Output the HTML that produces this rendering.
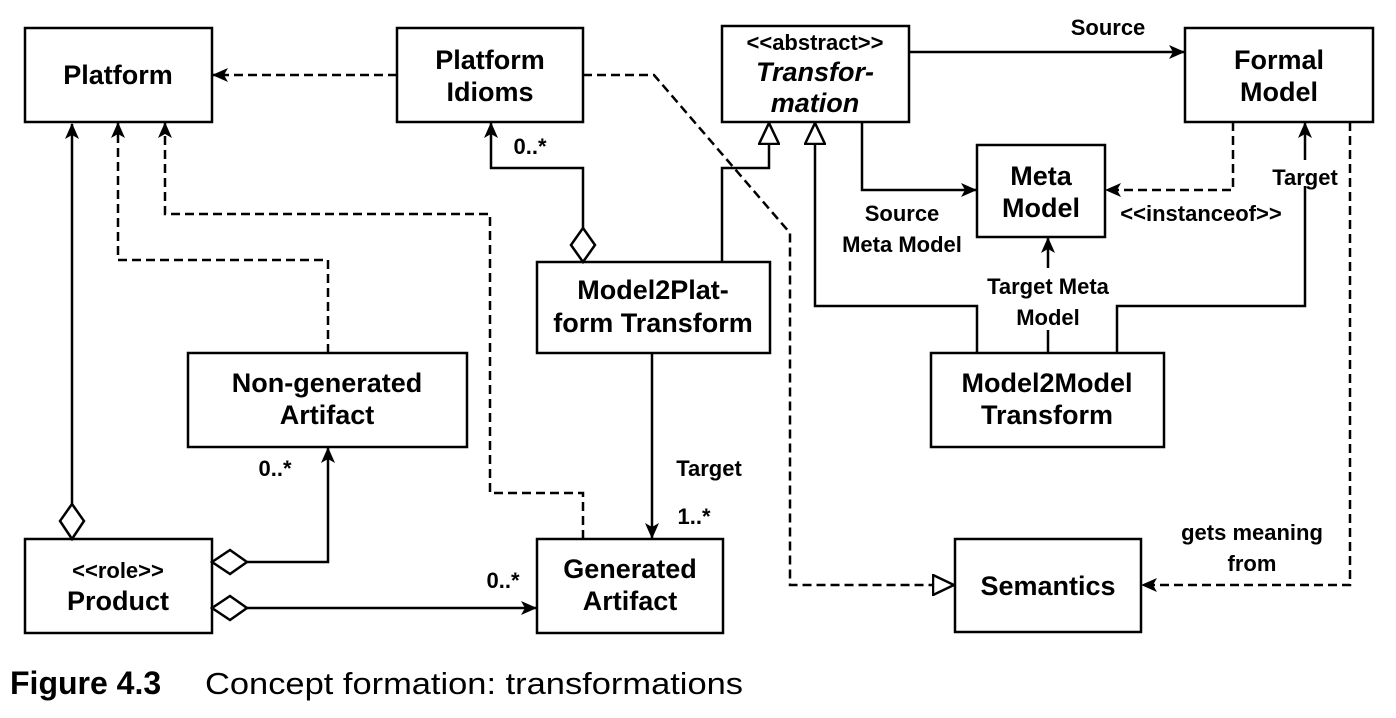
<!DOCTYPE html>
<html><head><meta charset="utf-8"><style>
html,body{margin:0;padding:0;background:#fff;}
svg{display:block;}
text{font-family:"Liberation Sans",Arial,sans-serif;font-weight:bold;fill:#000;}
text.reg{font-weight:normal;}
</style></head><body>
<svg width="1396" height="718" viewBox="0 0 1396 718" xmlns="http://www.w3.org/2000/svg">
<defs>
<marker id="fa" markerWidth="16" markerHeight="14" refX="15" refY="7" orient="auto" markerUnits="userSpaceOnUse"><path d="M0,0 L16,7 L0,14 L4,7 Z" fill="#000"/></marker>
<marker id="ht" markerWidth="24" markerHeight="22" refX="22" refY="11" orient="auto" markerUnits="userSpaceOnUse"><path d="M1,1 L22,11 L1,21 Z" fill="#fff" stroke="#000" stroke-width="2.5"/></marker>
</defs>
<g fill="none" stroke="#000" stroke-width="2.5">
<rect x="25" y="28" width="187" height="94"/>
<rect x="397" y="28" width="186" height="94"/>
<rect x="722" y="26" width="187" height="96"/>
<rect x="1185" y="28" width="188" height="94"/>
<rect x="977" y="145" width="128" height="92"/>
<rect x="537" y="262" width="233" height="91"/>
<rect x="188" y="353" width="279" height="94"/>
<rect x="931" y="353" width="233" height="94"/>
<rect x="25" y="539" width="187" height="94"/>
<rect x="537" y="539" width="186" height="94"/>
<rect x="955" y="539" width="186" height="93"/>

<path d="M72,504 L72,124" marker-end="url(#fa)"/>
<path d="M909,52 L1184,52" marker-end="url(#fa)"/>
<path d="M862,122 L862,190 L976,190" marker-end="url(#fa)"/>
<path d="M1048,353 L1048,238" marker-end="url(#fa)"/>
<path d="M1117,353 L1117,306 L1305,306 L1305,123" marker-end="url(#fa)"/>
<path d="M583,228 L583,168 L491,168 L491,123" marker-end="url(#fa)"/>
<path d="M722,262 L722,168 L769,168 L769,123" marker-end="url(#ht)"/>
<path d="M977,353 L977,306 L815,306 L815,123" marker-end="url(#ht)"/>
<path d="M652,353 L652,538" marker-end="url(#fa)"/>
<path d="M247,562 L328,562 L328,448" marker-end="url(#fa)"/>
<path d="M247,608 L536,608" marker-end="url(#fa)"/>

<g stroke-dasharray="9,5">
<path d="M397,75 L213,75" marker-end="url(#fa)"/>
<path d="M328,353 L328,260 L118,260 L118,123" marker-end="url(#fa)"/>
<path d="M583,539 L583,493 L490,493 L490,214 L165,214 L165,123" marker-end="url(#fa)"/>
<path d="M583,75 L654,75 L790,233 L790,585 L954,585" marker-end="url(#ht)"/>
<path d="M1233,122 L1233,190 L1106,190" marker-end="url(#fa)"/>
<path d="M1350,122 L1350,585 L1142,585" marker-end="url(#fa)"/>
</g>
</g>
<g fill="#fff" stroke="#000" stroke-width="2.5">
<path d="M72,504 L84,521 L72,539 L60,521 Z"/>
<path d="M583,228 L595,245 L583,262 L571,245 Z"/>
<path d="M212,562 L230,550 L247,562 L230,574 Z"/>
<path d="M212,608 L230,596 L247,608 L230,620 Z"/>
</g>
<rect x="1268" y="160" width="76" height="26" fill="#fff"/>
<rect x="982" y="268" width="132" height="62" fill="#fff"/>

<g font-size="27" text-anchor="middle">
<text x="118" y="84">Platform</text>
<text x="490" y="69">Platform</text>
<text x="490" y="101">Idioms</text>
<text x="815" y="50" font-size="22">&lt;&lt;abstract&gt;&gt;</text>
<text x="815" y="81" font-style="italic">Transfor-</text>
<text x="815" y="112" font-style="italic">mation</text>
<text x="1279" y="69">Formal</text>
<text x="1279" y="101">Model</text>
<text x="1041" y="185">Meta</text>
<text x="1041" y="217">Model</text>
<text x="653" y="299">Model2Plat-</text>
<text x="653" y="332">form Transform</text>
<text x="327" y="392">Non-generated</text>
<text x="327" y="424">Artifact</text>
<text x="1047" y="392">Model2Model</text>
<text x="1047" y="424">Transform</text>
<text x="118" y="578" font-size="22">&lt;&lt;role&gt;&gt;</text>
<text x="118" y="610">Product</text>
<text x="630" y="578">Generated</text>
<text x="630" y="610">Artifact</text>
<text x="1048" y="595">Semantics</text>
</g>
<g font-size="22" text-anchor="middle">
<text x="1108" y="35">Source</text>
<text x="902" y="221">Source</text>
<text x="902" y="252">Meta Model</text>
<text x="1201" y="221">&lt;&lt;instanceof&gt;&gt;</text>
<text x="1305" y="185">Target</text>
<text x="1048" y="294">Target Meta</text>
<text x="1048" y="325">Model</text>
<text x="530" y="154">0..*</text>
<text x="275" y="476">0..*</text>
<text x="503" y="588">0..*</text>
<text x="709" y="476">Target</text>
<text x="694" y="524">1..*</text>
<text x="1252" y="540">gets meaning</text>
<text x="1252" y="571">from</text>
</g>
<text x="10" y="694" font-size="32">Figure 4.3</text>
<text class="reg" x="205" y="694" font-size="31" textLength="538" lengthAdjust="spacingAndGlyphs">Concept formation: transformations</text>
</svg>
</body></html>
